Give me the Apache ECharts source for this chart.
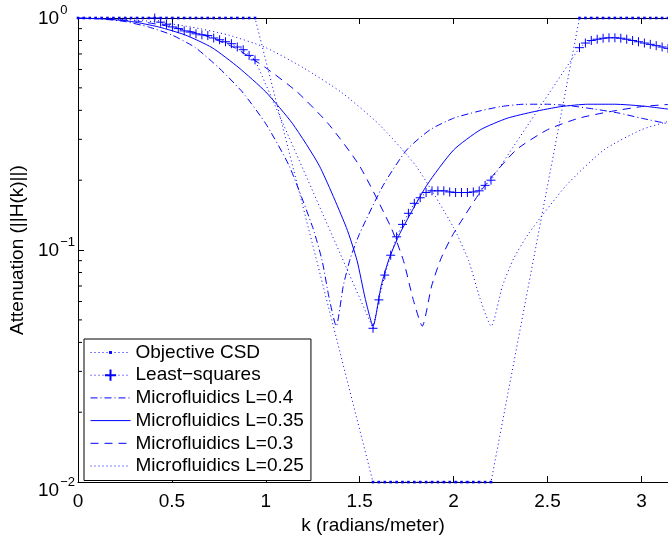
<!DOCTYPE html>
<html><head><meta charset="utf-8">
<script src="https://cdn.jsdelivr.net/npm/echarts@6.0.0/dist/echarts.min.js"></script>
<style>html,body{margin:0;padding:0;background:#fff}#c{width:668px;height:540px}</style>
</head><body><div id="c"></div>
<script>
// ---- data ----
const objK = [0.0000,0.0314,0.0628,0.0942,0.1257,0.1571,0.1885,0.2199,0.2513,0.2827,0.3142,0.3456,0.3770,0.4084,0.4398,0.4712,0.5027,0.5341,0.5655,0.5969,0.6283,0.6597,0.6912,0.7226,0.7540,0.7854,0.8168,0.8482,0.8796,0.9111,0.9425,
  1.5708,1.6022,1.6336,1.6650,1.6965,1.7279,1.7593,1.7907,1.8221,1.8535,1.8850,1.9164,1.9478,1.9792,2.0106,2.0420,2.0735,2.1049,2.1363,2.1677,2.1991,
  2.6704,2.7018,2.7332,2.7646,2.7960,2.8274,2.8588,2.8903,2.9217,2.9531,2.9845,3.0159,3.0473,3.0788,3.1102,3.1416];
const objV = [1,1,1,1,1,1,1,1,1,1,1,1,1,1,1,1,1,1,1,1,1,1,1,1,1,1,1,1,1,1,1,
  0.01,0.01,0.01,0.01,0.01,0.01,0.01,0.01,0.01,0.01,0.01,0.01,0.01,0.01,0.01,0.01,0.01,0.01,0.01,0.01,0.01,
  1,1,1,1,1,1,1,1,1,1,1,1,1,1,1,1];

const lsK = [0.4084,0.4398,0.4712,0.5027,0.5341,0.5655,0.5969,0.6283,0.6597,0.6912,0.7226,0.7540,0.7854,0.8168,0.8482,0.8796,0.9111,0.9425,
  1.5708,1.6022,1.6336,1.6650,1.6965,1.7279,1.7593,1.7907,1.8221,1.8535,1.8850,1.9164,1.9478,1.9792,2.0106,2.0420,2.0735,2.1049,2.1363,2.1677,2.1991,
  2.6704,2.7018,2.7332,2.7646,2.7960,2.8274,2.8588,2.8903,2.9217,2.9531,2.9845,3.0159,3.0473,3.0788,3.1102,3.1416];
const lsV = [1.0,0.96,0.94,0.915,0.90,0.88,0.87,0.855,0.846,0.84,0.82,0.806,0.79,0.775,0.75,0.73,0.69,0.66,
  0.046,0.061,0.078,0.095,0.114,0.129,0.144,0.159,0.168,0.177,0.18,0.18,0.18,0.178,0.177,0.177,0.177,0.178,0.18,0.19,0.2,
  0.745,0.78,0.80,0.81,0.818,0.822,0.822,0.818,0.81,0.80,0.79,0.78,0.77,0.76,0.75,0.74];

const m40K = [0,0.125,0.25,0.375,0.5,0.625,0.75,0.875,1.0,1.125,1.25,1.3,1.3375,1.375,1.4125,1.45,1.5,1.625,1.75,1.875,2.0,2.125,2.25,2.375,2.5,2.625,2.75,2.875,3.0,3.1416];
const m40V = [1,0.99,0.965,0.915,0.845,0.745,0.61,0.48,0.35,0.23,0.125,0.09,0.062,0.047,0.07,0.092,0.118,0.19,0.27,0.33,0.37,0.395,0.415,0.425,0.425,0.418,0.405,0.39,0.37,0.35];

const m35K = [0,0.143,0.286,0.429,0.571,0.714,0.857,1.0,1.143,1.286,1.429,1.486,1.529,1.571,1.614,1.657,1.714,1.857,2.0,2.143,2.286,2.429,2.571,2.714,2.857,3.0,3.1416];
const m35V = [1,0.99,0.965,0.915,0.845,0.745,0.61,0.48,0.35,0.23,0.125,0.09,0.062,0.047,0.07,0.092,0.118,0.19,0.27,0.33,0.37,0.395,0.415,0.425,0.425,0.418,0.405];

const m30K = [0,0.167,0.333,0.5,0.667,0.833,1.0,1.167,1.333,1.5,1.667,1.733,1.783,1.833,1.883,1.933,2.0,2.167,2.333,2.5,2.667,2.833,3.0,3.1416];
const m30V = [1,0.99,0.965,0.915,0.845,0.745,0.61,0.48,0.35,0.23,0.125,0.09,0.062,0.047,0.07,0.092,0.118,0.19,0.27,0.33,0.37,0.395,0.415,0.424];

const m25K = [0,0.2,0.4,0.6,0.8,1.0,1.2,1.4,1.6,1.8,2.0,2.08,2.14,2.2,2.26,2.32,2.4,2.6,2.8,3.0,3.1416];
const m25V = [1,0.99,0.965,0.915,0.845,0.745,0.61,0.48,0.35,0.23,0.125,0.09,0.062,0.047,0.07,0.092,0.118,0.19,0.27,0.33,0.358];

const xTicks = [0,0.5,1,1.5,2,2.5,3];
const yMinorTicks = [0.02,0.03,0.04,0.05,0.06,0.07,0.08,0.09,0.2,0.3,0.4,0.5,0.6,0.7,0.8,0.9];
const names = ['Objective CSD','Least\u2212squares','Microfluidics L=0.4','Microfluidics L=0.35','Microfluidics L=0.3','Microfluidics L=0.25'];

// ---- chart ----
const zip = (a,b) => a.map((v,i)=>[v,b[i]]);
const BLUE = '#0000ff';
const FONT = 'Liberation Sans, Arial, Helvetica, sans-serif';
const DOT = 'path://M0,0M10,10M3.7,3.7L6.3,3.7L6.3,6.3L3.7,6.3Z';
const PLUS = 'path://M0,5L10,5M5,0L5,10';
const chart = echarts.init(document.getElementById('c'), null, {renderer:'canvas'});

function lineSeries(name, k, v, type, extra) {
  return Object.assign({
    name, type:'line', data: zip(k,v), xAxisIndex:0, yAxisIndex:0,
    showSymbol:false, symbol:'none', animation:false, clip:true,
    lineStyle:{color:BLUE, width:1, type:type},
    itemStyle:{color:'transparent', borderWidth:0},
    emphasis:{disabled:true}
  }, extra||{});
}

const xAxisCommon = {
  type:'value', min:0, max:3.14159, interval:0.5,
  splitLine:{show:false},
  axisLine:{show:true, lineStyle:{color:'#000', width:1}},
  axisTick:{show:true, inside:true, length:6, lineStyle:{color:'#000'}}
};

const option = {
  backgroundColor:'#fff',
  animation:false,
  textStyle:{fontFamily:FONT},
  grid:{left:78, top:18, width:595, height:470, containLabel:false},
  xAxis:[
    Object.assign({}, xAxisCommon, {
      position:'bottom',
      name:'k (radians/meter)', nameLocation:'middle', nameGap:29,
      nameTextStyle:{fontSize:19, color:'#000', fontFamily:FONT},
      axisLabel:{show:true, margin:10, fontSize:19, color:'#000', fontFamily:FONT, showMaxLabel:false,
        formatter:function(v){ return xTicks.indexOf(Math.round(v*100)/100) >= 0 ? String(v) : ''; }}
    }),
    Object.assign({}, xAxisCommon, {position:'top', axisLabel:{show:false}})
  ],
  yAxis:[{
    type:'log', logBase:10, min:0.01, max:1,
    name:'Attenuation (||H(k)||)', nameLocation:'middle', nameGap:51,
    nameTextStyle:{fontSize:19, color:'#000', fontFamily:FONT},
    splitLine:{show:false},
    axisLine:{show:true, lineStyle:{color:'#000', width:1}},
    axisTick:{show:true, inside:true, length:6, lineStyle:{color:'#000'}},
    minorTick:{show:false},
    axisLabel:{
      show:true, align:'left', margin:40, color:'#000', fontFamily:FONT,
      formatter:function(v){
        const e = Math.round(Math.log10(v));
        const s = e < 0 ? '\u2212' + (-e) : String(e);
        if (e === -2) return '{b2|10}{s2|' + s + '}';
        return '{b|10}{s|' + s + '}';
      },
      rich:{
        b:{fontSize:19, lineHeight:19, padding:[6,0,4,0], color:'#000', fontFamily:FONT},
        s:{fontSize:13, lineHeight:13, padding:[0,0,16,1], color:'#000', fontFamily:FONT},
        b2:{fontSize:19, lineHeight:19, padding:[22,0,4,0], color:'#000', fontFamily:FONT},
        s2:{fontSize:13, lineHeight:13, padding:[16,0,16,1], color:'#000', fontFamily:FONT}
      }
    }
  }],
  legend:{
    data:names, orient:'vertical', left:84, top:339,
    padding:[4,7,5,6], itemGap:3.7, itemWidth:40, itemHeight:14,
    backgroundColor:'#fff', borderColor:'#000', borderWidth:1,
    lineStyle:{color:BLUE, width:1},
    textStyle:{fontSize:19, lineHeight:19, color:'#000', fontFamily:FONT},
    selectedMode:false
  },
  series:[
    lineSeries(names[0], objK, objV, [1,3], {showSymbol:true, symbol:DOT, symbolSize:10,
      itemStyle:{color:BLUE, borderWidth:0}, z:2}),
    lineSeries(names[1], lsK, lsV, [1,3], {showSymbol:true, symbol:PLUS, symbolSize:9,
      itemStyle:{color:BLUE, borderColor:BLUE, borderWidth:1}, z:3}),
    lineSeries(names[2], m40K, m40V, [7,3,1,3], {smooth:0.2, z:4}),
    lineSeries(names[3], m35K, m35V, 'solid', {smooth:0.2, z:5}),
    lineSeries(names[4], m30K, m30V, [8,6], {smooth:0.2, z:6}),
    lineSeries(names[5], m25K, m25V, [1,3], {smooth:0.2, z:7}),
    {
      type:'custom', name:'minorTicks', xAxisIndex:0, yAxisIndex:0, clip:false, silent:true, animation:false,
      data: yMinorTicks.map(v=>[0,v]),
      renderItem:function(params, api){
        const p = api.coord([0, api.value(1)]);
        return {type:'line', shape:{x1:p[0], y1:p[1], x2:p[0]+4, y2:p[1]}, style:{stroke:'#000', lineWidth:1}};
      }
    }
  ]
};
chart.setOption(option);
</script>
</body></html>
